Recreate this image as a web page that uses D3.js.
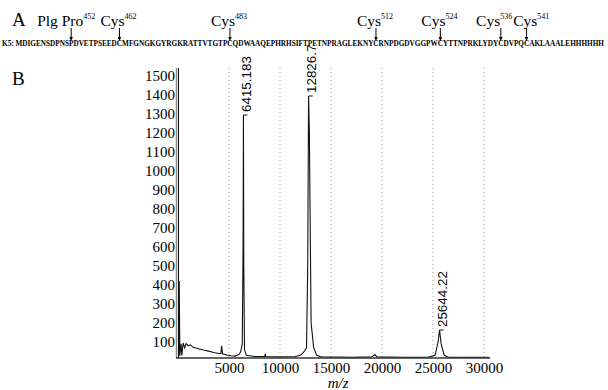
<!DOCTYPE html>
<html>
<head>
<meta charset="utf-8">
<script src="https://cdn.jsdelivr.net/npm/d3@7"></script>
<style>
    body { margin: 0; background: #fff; }
    svg { display: block; }
</style>
</head>
<body>
<svg id="chart" width="608" height="390"></svg>
<script>
// panel A: K5 sequence and the residues that are marked
var sequence = "K5: MDIGENSDPNSPDVETPSEEDCMFGNGKGYRGKRATTVTGTPCQDWAAQEPHRHSIFTPETNPRAGLEKNYCRNPDGDVGGPWCYTTNPRKLYDYCDVPQCAKLAAALEHHHHHH";
var siteNames = ["Plg Pro", "Cys", "Cys", "Cys", "Cys", "Cys", "Cys"];
var siteNumbers = ["452", "462", "483", "512", "524", "536", "541"];
var siteIndex = [15, 25, 46, 75, 87, 99, 104];   // char index inside sequence

// panel B: spectrum
var mz = [60, 120, 180, 300, 380, 500, 650, 800, 1000, 1200, 1500, 2000, 2500, 3000, 3500, 4000, 4200, 4280, 4360,
    4800, 5200, 5600, 6000, 6150, 6300, 6380, 6415, 6450, 6520, 6700, 7500, 8500, 8550, 8600, 10000, 11500, 12000,
    12300, 12600, 12720, 12800, 12880, 12950, 13050, 13300, 13600, 14000, 17000, 19000, 19300, 19500, 22000, 24500,
    25200, 25500, 25644, 25800, 26100, 26500, 30000, 30500];
var intensity = [20, 420, 28, 90, 30, 95, 70, 92, 80, 85, 72, 65, 58, 52, 45, 40, 40, 80, 38,
    32, 28, 26, 35, 50, 90, 600, 1293, 500, 60, 30, 24, 24, 38, 24, 22, 24, 30,
    45, 70, 500, 1393, 1200, 780, 200, 70, 30, 22, 20, 22, 34, 22, 20, 20,
    30, 100, 163, 90, 30, 20, 20, 20];
var peakMz = [6415.183, 12826.7, 25644.22];
var peakValue = [1293, 1393, 163];
var peakLabels = ["6415.183", "12826.7", "25644.22"];

var yTicks = d3.range(100, 1501, 100);
var xTicks = [5000, 10000, 15000, 20000, 25000, 30000];

var svg = d3.select("#chart");
var serif = "'Liberation Serif', 'Times New Roman', serif";
var sans = "'Liberation Sans', Arial, sans-serif";

// ---------- panel A ----------
svg.append("text").attr("x", 12).attr("y", 26)
    .attr("font-family", serif).attr("font-size", 19).text("A");

var seqWidth = 602;
var seqText = svg.append("text")
    .attr("x", 2).attr("y", 46)
    .attr("font-family", serif).attr("font-size", 8).attr("font-weight", "bold")
    .text(sequence);
// shrink the font until the line fits the page width
var natural = seqText.node().getComputedTextLength();
seqText.attr("font-size", 8 * seqWidth / natural)
    .attr("textLength", seqWidth).attr("lengthAdjust", "spacingAndGlyphs");

var seqNode = seqText.node();
var sites = siteIndex.map(function (idx, i) {
    var box = seqNode.getExtentOfChar(idx);
    return {name: siteNames[i], num: siteNumbers[i], x: box.x + box.width / 2};
});

var sitesG = svg.append("g");
var labs = [];
sites.forEach(function (d, i) {
    var lab = sitesG.append("text")
        .attr("y", 26)
        .attr("fill", "#000")
        .attr("font-family", serif).attr("font-size", 15.5);
    lab.append("tspan").text(d.name);
    lab.append("tspan").attr("font-size", 8).attr("dy", -7).text(d.num);
    // "Cys" word ends near the arrow, "Plg Pro" has the arrow under "Pro"
    var start = i == 0 ? d.x - 34 : d.x - 19;
    var w = lab.node().getComputedTextLength();
    labs.push({sel: lab, start: start, w: w});

    sitesG.append("line")
        .attr("x1", d.x).attr("x2", d.x).attr("y1", 28).attr("y2", 38)
        .attr("stroke", "#000").attr("stroke-width", 1);
    sitesG.append("path")
        .attr("d", "M" + (d.x - 1.8) + ",37L" + (d.x + 1.8) + ",37L" + d.x + ",41Z")
        .attr("fill", "#000");
});
// the last two labels sit too close: spread them apart evenly
for (var i = 1; i < labs.length; i++) {
    var gap = labs[i - 1].start + labs[i - 1].w + 1 - labs[i].start;
    if (gap > 0) {
        labs[i - 1].start -= gap / 2;
        labs[i].start += gap / 2;
    }
}
labs.forEach(function (l) { l.sel.attr("x", l.start); });

// ---------- panel B ----------
svg.append("text").attr("x", 12).attr("y", 85)
    .attr("font-family", serif).attr("font-size", 19).text("B");

var x = d3.scaleLinear().domain([0, 30000]).range([178, 484]);
var y = d3.scaleLinear().domain([16, 1540]).range([358, 68]);

// dotted grid
svg.append("g").selectAll("line")
    .data(xTicks)
    .enter().append("line")
    .attr("x1", function (d) { return x(d); })
    .attr("x2", function (d) { return x(d); })
    .attr("y1", y(1540)).attr("y2", y(16))
    .attr("stroke", "#9a9a9a").attr("stroke-width", 1)
    .attr("stroke-dasharray", "1,3");

// spectrum trace
var line = d3.line()
    .x(function (d) { return x(d[0]); })
    .y(function (d) { return y(d[1]); });

svg.append("path")
    .datum(d3.zip(mz, intensity))
    .attr("d", line)
    .attr("fill", "none")
    .attr("stroke", "#111")
    .attr("stroke-width", 1.1);

// axes
var yAxis = d3.axisLeft(y).tickValues(yTicks).tickSize(0).tickPadding(3).tickFormat(d3.format("d"));
var yg = svg.append("g").attr("transform", "translate(" + x(0) + ",0)").call(yAxis);
yg.select(".domain").remove();
yg.selectAll("text").attr("font-family", serif).attr("font-size", 15).attr("fill", "#000");

var xAxis = d3.axisBottom(x).tickValues(xTicks).tickSize(0).tickPadding(4).tickFormat(d3.format("d"));
var xg = svg.append("g").attr("transform", "translate(0," + y(16) + ")").call(xAxis);
xg.select(".domain").remove();
xg.selectAll("text").attr("font-family", serif).attr("font-size", 15).attr("fill", "#000");

// axis lines: double left spine, heavy bottom line
svg.append("line")
    .attr("x1", x(0) - 1.5).attr("x2", x(0) - 1.5).attr("y1", y(1540)).attr("y2", y(16))
    .attr("stroke", "#888").attr("stroke-width", 1.5);
svg.append("line")
    .attr("x1", x(0) + 0.5).attr("x2", x(0) + 0.5).attr("y1", y(1540)).attr("y2", y(16))
    .attr("stroke", "#111").attr("stroke-width", 1);
svg.append("line")
    .attr("x1", x(0) - 2).attr("x2", x(30600)).attr("y1", y(16)).attr("y2", y(16))
    .attr("stroke", "#333").attr("stroke-width", 1.6);

// axis title
svg.append("text")
    .attr("x", x(15700)).attr("y", 388)
    .attr("text-anchor", "middle")
    .attr("font-family", serif).attr("font-size", 15).attr("font-style", "italic")
    .text("m/z");

// peak labels
var peaks = svg.append("g").selectAll("g")
    .data(peakMz.map(function (m, i) { return {mz: m, v: peakValue[i], label: peakLabels[i]}; }))
    .enter().append("g");

peaks.append("line")
    .attr("x1", function (d) { return x(d.mz); })
    .attr("x2", function (d) { return x(d.mz) + 4; })
    .attr("y1", function (d) { return y(d.v); })
    .attr("y2", function (d) { return y(d.v); })
    .attr("stroke", "#111").attr("stroke-width", 1);

peaks.append("text")
    .attr("transform", function (d) {
        return "translate(" + (x(d.mz) + 7.5) + "," + (y(d.v) - 3) + ") rotate(-90)";
    })
    .attr("font-family", sans).attr("font-size", 13.4)
    .text(function (d) { return d.label; });
</script>
</body>
</html>
